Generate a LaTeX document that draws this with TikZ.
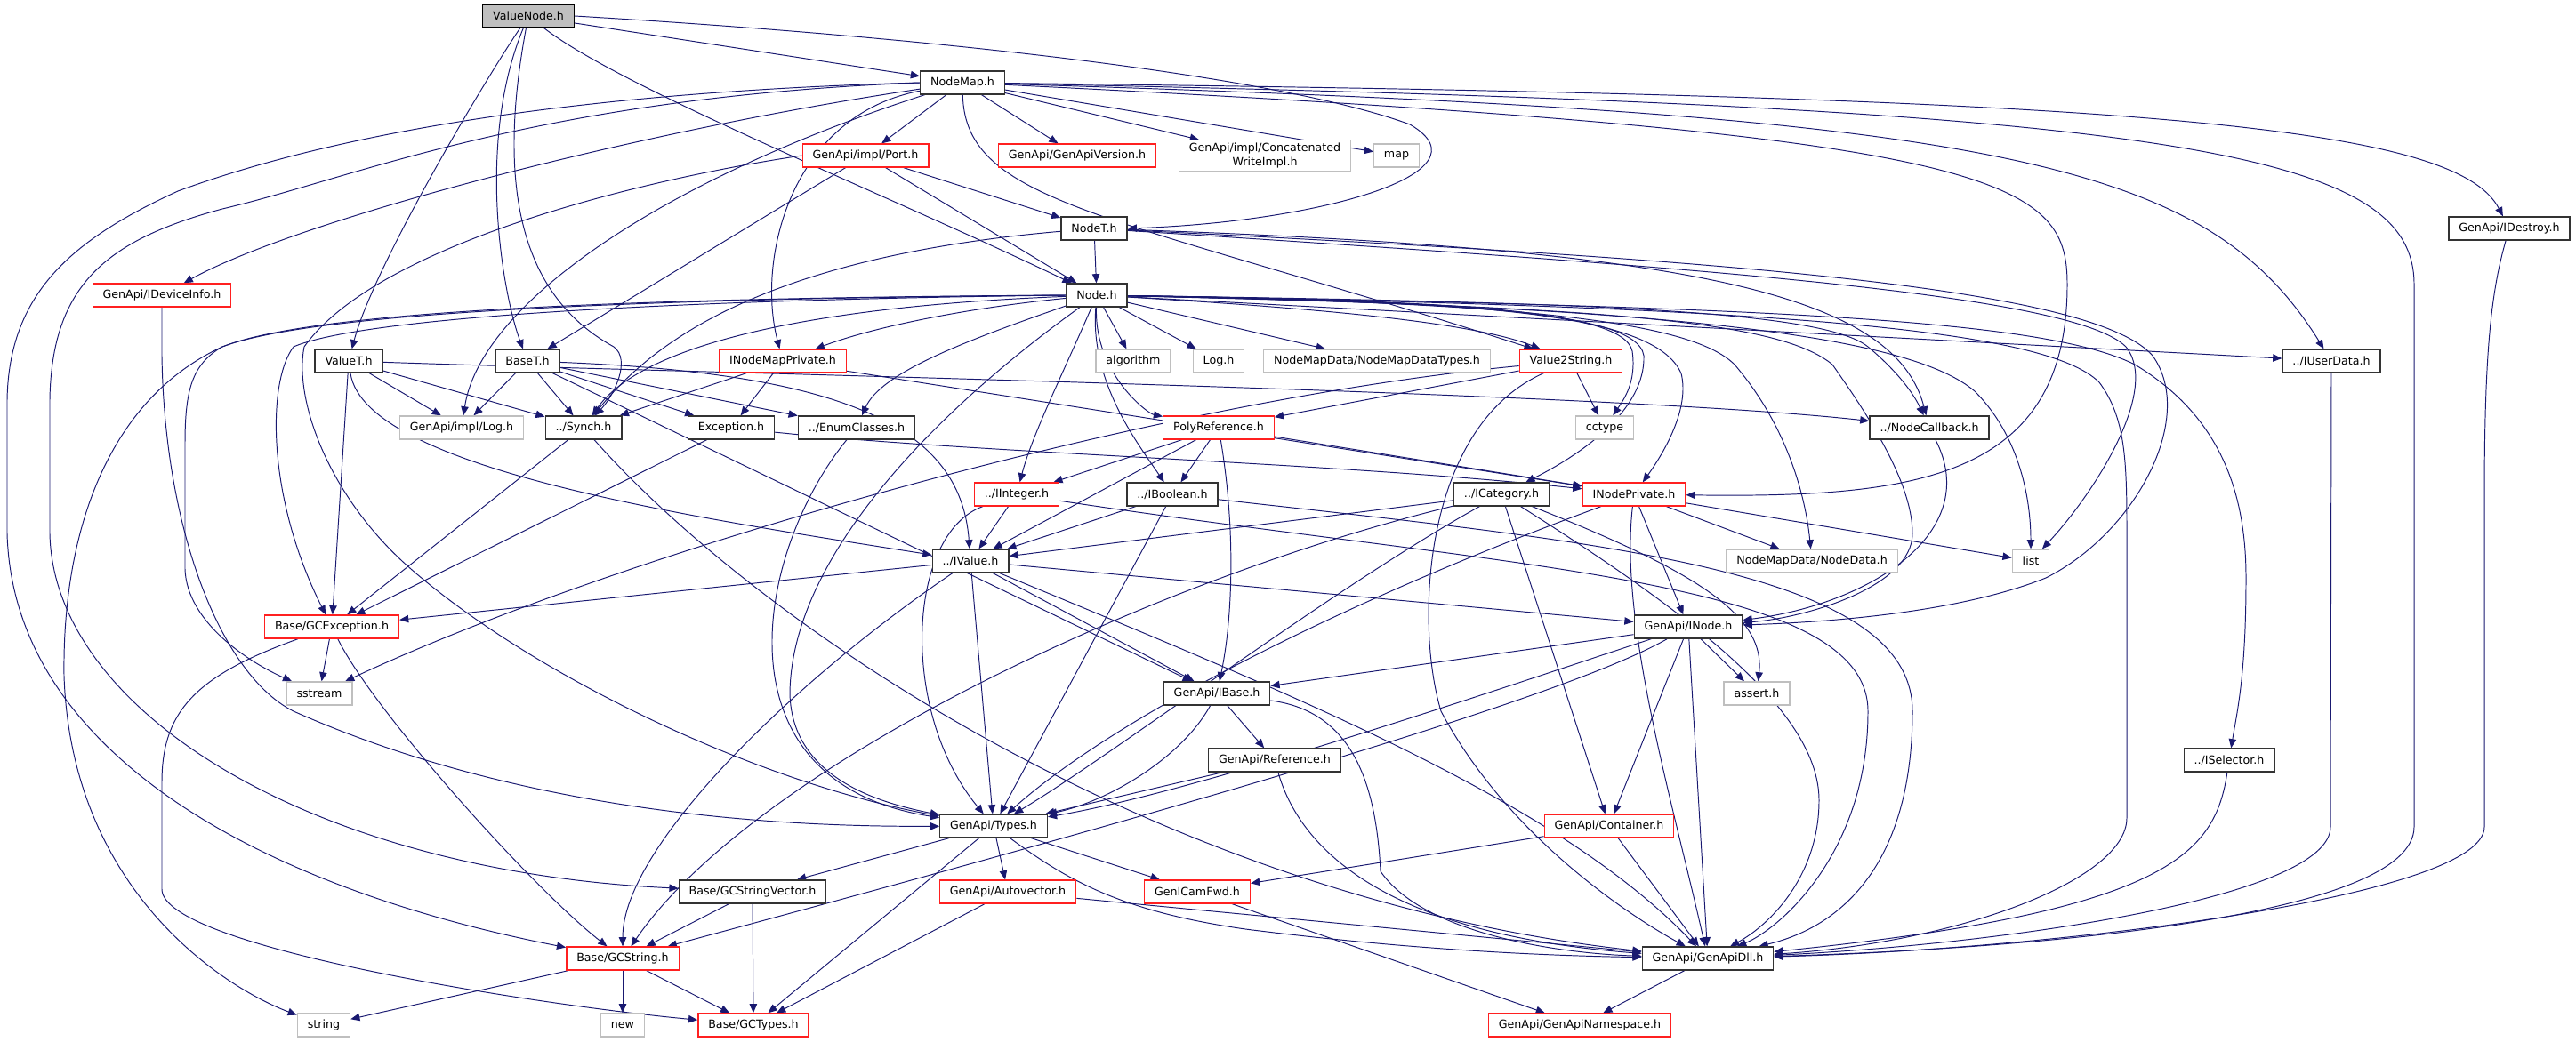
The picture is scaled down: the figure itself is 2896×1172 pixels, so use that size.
\documentclass[tikz,border=0pt]{standalone}
\usepackage{fontspec}
\setmainfont{DejaVu Sans}
\usetikzlibrary{arrows.meta,backgrounds}
\definecolor{edgeblue}{HTML}{191970}
\definecolor{leafgray}{HTML}{BFBFBF}
\definecolor{truncred}{HTML}{FF2020}
\begin{document}
\begin{tikzpicture}[x=0.02cm,y=-0.02cm,
  hdr/.style={draw=black!80,line width=0.75pt,fill=white,inner xsep=6.5pt,inner ysep=0pt,minimum height=0.52cm,font=\fontsize{7.2}{8.6}\selectfont},
  hdrred/.style={hdr,draw=truncred},
  hdrgray/.style={hdr,draw=leafgray},
  dep/.style={draw=edgeblue,line width=0.55pt,-{Triangle[length=5.8pt,width=4.8pt]}}]
\useasboundingbox (0,0) rectangle (2896,1172);

\node[hdr,fill=leafgray,draw=black] (valuenode) at (594,18) {ValueNode.h};
\node[hdr] (nodemap) at (1082,93) {NodeMap.h};
\node[hdrred] (port) at (973,175) {GenApi/impl/Port.h};
\node[hdrred] (version) at (1211,175) {GenApi/GenApiVersion.h};
\node[hdrgray,align=center,inner ysep=2pt] (concat) at (1422,175) {GenApi/impl/Concatenated\\WriteImpl.h};
\node[hdrgray] (map) at (1570,175) {map};
\node[hdr] (nodet) at (1230,257) {NodeT.h};
\node[hdr] (idestroy) at (2821,257) {GenApi/IDestroy.h};
\node[hdr] (node) at (1233,332) {Node.h};
\node[hdrred] (ideviceinfo) at (182,332) {GenApi/IDeviceInfo.h};
\node[hdr] (valuet) at (392,406) {ValueT.h};
\node[hdr] (baset) at (593,406) {BaseT.h};
\node[hdrred] (inodemapprivate) at (880,406) {INodeMapPrivate.h};
\node[hdrgray] (algorithm) at (1274,406) {algorithm};
\node[hdrgray] (logh) at (1370,406) {Log.h};
\node[hdrgray] (nodemapdatatypes) at (1548,406) {NodeMapData/NodeMapDataTypes.h};
\node[hdrred] (value2string) at (1766,406) {Value2String.h};
\node[hdr] (iuserdata) at (2621,406) {../IUserData.h};
\node[hdrgray] (impllog) at (519,481) {GenApi/impl/Log.h};
\node[hdr] (synch) at (656,481) {../Synch.h};
\node[hdr] (exception) at (822,481) {Exception.h};
\node[hdr] (enumclasses) at (963,481) {../EnumClasses.h};
\node[hdrred] (polyref) at (1370,481) {PolyReference.h};
\node[hdrgray] (cctype) at (1804,481) {cctype};
\node[hdr] (nodecallback) at (2169,481) {../NodeCallback.h};
\node[hdrred] (iinteger) at (1143,556) {../IInteger.h};
\node[hdr] (iboolean) at (1318,556) {../IBoolean.h};
\node[hdr] (icategory) at (1688,556) {../ICategory.h};
\node[hdrred] (inodeprivate) at (1837,556) {INodePrivate.h};
\node[hdr] (ivalue) at (1091,631) {../IValue.h};
\node[hdrgray] (nodedata) at (2037,631) {NodeMapData/NodeData.h};
\node[hdrgray] (list) at (2283,631) {list};
\node[hdrred] (gcexception) at (373,705) {Base/GCException.h};
\node[hdr] (inode) at (1898,705) {GenApi/INode.h};
\node[hdrgray] (sstream) at (359,780) {sstream};
\node[hdr] (ibase) at (1368,780) {GenApi/IBase.h};
\node[hdrgray] (assert) at (1975,780) {assert.h};
\node[hdr] (reference) at (1433,855) {GenApi/Reference.h};
\node[hdr] (iselector) at (2506,855) {../ISelector.h};
\node[hdr] (types) at (1117,929) {GenApi/Types.h};
\node[hdrred] (container) at (1809,929) {GenApi/Container.h};
\node[hdr] (gcstringvector) at (846,1003) {Base/GCStringVector.h};
\node[hdrred] (autovector) at (1133,1003) {GenApi/Autovector.h};
\node[hdrred] (genicamfwd) at (1346,1003) {GenICamFwd.h};
\node[hdrred] (gcstring) at (700,1078) {Base/GCString.h};
\node[hdr] (genapidll) at (1920,1078) {GenApi/GenApiDll.h};
\node[hdrgray] (string) at (364,1153) {string};
\node[hdrgray] (new) at (700,1153) {new};
\node[hdrred] (gctypes) at (847,1153) {Base/GCTypes.h};
\node[hdrred] (namespace) at (1776,1153) {GenApi/GenApiNamespace.h};

\begin{pgfonlayer}{background}
% ValueNode.h
\draw[dep] (valuenode) -- (nodemap);
\draw[dep] (valuenode) .. controls (700,100) and (1000,220) .. (node);
\draw[dep] (valuenode.east) .. controls (1100,45) and (1450,90) .. (1585,140) .. controls (1680,195) and (1480,250) .. (nodet.east);
\draw[dep] (valuenode) .. controls (545,90) and (420,300) .. (valuet);
\draw[dep] (valuenode) .. controls (535,160) and (565,330) .. (baset);
\draw[dep] (valuenode) .. controls (560,200) and (580,330) .. (690,390) .. controls (710,405) and (690,445) .. (synch);
% NodeMap.h
\draw[dep] (nodemap) -- (port);
\draw[dep] (nodemap) -- (version);
\draw[dep] (nodemap) -- (concat);
\draw[dep] (nodemap) -- (map);
\draw[dep] (nodemap) .. controls (1085,230) and (1250,240) .. (value2string);
\draw[dep] (nodemap) .. controls (890,130) and (850,290) .. (inodemapprivate);
\draw[dep] (nodemap) .. controls (2400,108) and (2760,140) .. (idestroy);
\draw[dep] (nodemap) .. controls (2450,120) and (2714,170) .. (2714,320) -- (2714,930) .. controls (2714,1030) and (2300,1066) .. (genapidll);
\draw[dep] (nodemap) .. controls (2250,128) and (2480,180) .. (iuserdata);
\draw[dep] (nodemap) .. controls (2250,150) and (2324,200) .. (2324,320) .. controls (2324,540) and (2150,560) .. (inodeprivate);
\draw[dep] (nodemap.west) .. controls (600,105) and (350,160) .. (200,215) .. controls (80,270) and (10,330) .. (8,450) -- (8,600) .. controls (15,850) and (300,1000) .. (gcstring);
\draw[dep] (nodemap.west) .. controls (600,110) and (400,200) .. (250,235) .. controls (120,270) and (58,320) .. (56,450) -- (56,600) .. controls (60,800) and (350,980) .. (gcstringvector);
\draw[dep] (nodemap) .. controls (700,150) and (330,250) .. (ideviceinfo);
\draw[dep] (nodemap) .. controls (750,200) and (540,340) .. (impllog);
% Port.h
\draw[dep] (port) -- (nodet);
\draw[dep] (port) -- (node);
\draw[dep] (port) -- (baset);
\draw[dep] (port.west) .. controls (700,205) and (420,280) .. (342,390) .. controls (330,450) and (370,560) .. (462,640) .. controls (600,760) and (850,880) .. (types);
% NodeT.h
\draw[dep] (nodet) -- (node);
\draw[dep] (nodet) .. controls (850,290) and (730,390) .. (synch);
\draw[dep] (nodet) .. controls (1900,280) and (2130,330) .. (nodecallback);
\draw[dep] (nodet) .. controls (1900,290) and (2350,320) .. (2420,400) .. controls (2470,470) and (2400,600) .. (2300,650) .. controls (2200,690) and (2050,700) .. (inode);
\draw[dep] (nodet) .. controls (1900,300) and (2330,330) .. (2390,390) .. controls (2430,440) and (2350,560) .. (list);
% Node.h
\draw[dep] (node) .. controls (1100,345) and (990,365) .. (inodemapprivate);
\draw[dep] (node) .. controls (900,345) and (720,390) .. (synch);
\draw[dep] (node.west) .. controls (700,338) and (400,360) .. (330,390) .. controls (300,430) and (300,560) .. (gcexception);
\draw[dep] (node.west) .. controls (700,335) and (350,350) .. (250,390) .. controls (120,450) and (70,600) .. (72,760) .. controls (80,1000) and (250,1110) .. (string);
\draw[dep] (node.west) .. controls (700,336) and (350,352) .. (250,390) .. controls (215,410) and (208,440) .. (208,500) -- (208,640) .. controls (210,700) and (280,745) .. (sstream);
\draw[dep] (node) .. controls (1080,385) and (990,420) .. (enumclasses);
\draw[dep] (node) .. controls (1110,420) and (890,600) .. (888,780) .. controls (890,880) and (1000,905) .. (types);
\draw[dep] (node) .. controls (1195,420) and (1160,490) .. (iinteger);
\draw[dep] (node) .. controls (1225,430) and (1280,500) .. (iboolean);
\draw[dep] (node) .. controls (1230,420) and (1290,465) .. (polyref);
\draw[dep] (node) -- (algorithm);
\draw[dep] (node) -- (logh);
\draw[dep] (node) -- (nodemapdatatypes);
\draw[dep] (node) .. controls (1450,345) and (1650,360) .. (value2string);
\draw[dep] (node) .. controls (1600,338) and (1825,345) .. (1835,395) .. controls (1840,430) and (1825,450) .. (cctype);
\draw[dep] (node) .. controls (1600,340) and (1840,345) .. (1848,400) .. controls (1850,460) and (1780,510) .. (icategory);
\draw[dep] (node) .. controls (1650,338) and (1860,350) .. (1890,420) .. controls (1900,460) and (1870,510) .. (inodeprivate);
\draw[dep] (node) .. controls (1700,340) and (1900,360) .. (1950,410) .. controls (2010,480) and (2030,560) .. (nodedata);
\draw[dep] (node) .. controls (1800,340) and (2050,350) .. (2100,390) .. controls (2130,415) and (2150,440) .. (nodecallback);
\draw[dep] (node) .. controls (1800,345) and (2000,360) .. (2060,410) .. controls (2095,460) and (2150,540) .. (2150,600) .. controls (2150,660) and (2030,695) .. (inode);
\draw[dep] (node) .. controls (1900,345) and (2150,380) .. (2220,440) .. controls (2270,490) and (2283,560) .. (list);
\draw[dep] (node) -- (iuserdata);
\draw[dep] (node) .. controls (2000,345) and (2300,360) .. (2400,410) .. controls (2500,470) and (2525,560) .. (2525,650) .. controls (2525,760) and (2515,800) .. (iselector);
\draw[dep] (node) .. controls (2000,345) and (2300,370) .. (2360,430) .. controls (2390,470) and (2391,520) .. (2391,600) -- (2391,920) .. controls (2391,990) and (2200,1060) .. (genapidll);
% GenApi/IDeviceInfo.h, GenApi/IDestroy.h
\draw[dep] (ideviceinfo) -- (182,400) .. controls (185,600) and (250,760) .. (330,800) .. controls (600,920) and (900,930) .. (types);
\draw[dep] (idestroy) .. controls (2800,330) and (2793,400) .. (2793,560) -- (2793,930) .. controls (2793,1010) and (2300,1068) .. (genapidll);
% ValueT.h
\draw[dep] (valuet) -- (impllog);
\draw[dep] (valuet) -- (synch);
\draw[dep] (valuet) -- (gcexception);
\draw[dep] (valuet) .. controls (410,530) and (800,585) .. (ivalue);
\draw[dep] (valuet) .. controls (800,420) and (1800,440) .. (nodecallback);
% BaseT.h
\draw[dep] (baset) -- (impllog);
\draw[dep] (baset) -- (synch);
\draw[dep] (baset) -- (exception);
\draw[dep] (baset) -- (enumclasses);
\draw[dep] (baset) .. controls (950,420) and (1080,480) .. (ivalue);
\draw[dep] (baset) -- (ibase);
% INodeMapPrivate.h
\draw[dep] (inodemapprivate) -- (synch);
\draw[dep] (inodemapprivate) -- (exception);
\draw[dep] (inodemapprivate) -- (inodeprivate);
% Value2String.h
\draw[dep] (value2string) -- (polyref);
\draw[dep] (value2string) .. controls (1300,450) and (700,620) .. (sstream);
\draw[dep] (value2string) -- (cctype);
\draw[dep] (value2string) .. controls (1600,480) and (1590,700) .. (1620,800) .. controls (1700,950) and (1850,1040) .. (genapidll);
% ../IUserData.h
\draw[dep] (iuserdata) -- (2620,930) .. controls (2620,1010) and (2250,1062) .. (genapidll);
% ../Synch.h, Exception.h, ../EnumClasses.h
\draw[dep] (synch) -- (gcexception);
\draw[dep] (synch) .. controls (850,700) and (1300,1010) .. (genapidll);
\draw[dep] (exception) -- (gcexception);
\draw[dep] (exception) .. controls (1100,510) and (1500,520) .. (inodeprivate);
\draw[dep] (enumclasses) .. controls (850,620) and (800,880) .. (types);
% PolyReference.h
\draw[dep] (polyref) -- (iinteger);
\draw[dep] (polyref) -- (iboolean);
\draw[dep] (polyref) -- (ivalue);
\draw[dep] (polyref) .. controls (1390,600) and (1385,700) .. (ibase);
\draw[dep] (polyref) -- (inodeprivate);
% ../NodeCallback.h
\draw[dep] (nodecallback) .. controls (2230,600) and (2100,680) .. (inode);
% ../IInteger.h, ../IBoolean.h
\draw[dep] (iinteger) -- (ivalue);
\draw[dep] (iinteger) .. controls (1020,600) and (1010,800) .. (types);
\draw[dep] (iinteger) .. controls (1700,640) and (2100,650) .. (2100,800) .. controls (2100,960) and (2000,1045) .. (genapidll);
\draw[dep] (iboolean) -- (ivalue);
\draw[dep] (iboolean) -- (types);
\draw[dep] (iboolean) .. controls (1800,610) and (2150,640) .. (2150,800) .. controls (2150,960) and (2080,1040) .. (genapidll);
% ../ICategory.h
\draw[dep] (icategory) -- (ivalue);
\draw[dep] (icategory) .. controls (1500,660) and (1250,850) .. (types);
\draw[dep] (icategory) .. controls (1300,650) and (850,860) .. (gcstring);
\draw[dep] (icategory) -- (container);
\draw[dep] (icategory) .. controls (1900,690) and (2045,800) .. (2045,900) .. controls (2045,985) and (1990,1040) .. (genapidll);
\draw[dep] (icategory) .. controls (1900,640) and (1985,690) .. (assert);
% INodePrivate.h
\draw[dep] (inodeprivate) .. controls (1500,680) and (1250,810) .. (types);
\draw[dep] (inodeprivate) .. controls (1820,700) and (1880,900) .. (genapidll);
\draw[dep] (inodeprivate) -- (inode);
\draw[dep] (inodeprivate) -- (nodedata);
\draw[dep] (inodeprivate) -- (list);
% ../IValue.h
\draw[dep] (ivalue) -- (gcexception);
\draw[dep] (ivalue) .. controls (900,760) and (700,950) .. (gcstring);
\draw[dep] (ivalue) -- (types);
\draw[dep] (ivalue) -- (ibase);
\draw[dep] (ivalue) -- (inode);
\draw[dep] (ivalue) .. controls (1450,780) and (1750,900) .. (genapidll);
% Base/GCException.h
\draw[dep] (gcexception) -- (sstream);
\draw[dep] (gcexception) .. controls (420,800) and (600,1000) .. (gcstring);
\draw[dep] (gcexception) .. controls (220,760) and (182,800) .. (182,880) -- (182,1000) .. controls (182,1065) and (600,1130) .. (gctypes);
% GenApi/INode.h
\draw[dep] (inode) -- (ibase);
\draw[dep] (inode) -- (assert);
\draw[dep] (inode) -- (container);
\draw[dep] (inode) -- (genapidll);
\draw[dep] (inode) .. controls (1700,770) and (1350,890) .. (types);
\draw[dep] (inode) .. controls (1750,790) and (1250,930) .. (gcstring);
% GenApi/IBase.h, GenApi/Reference.h, ../ISelector.h
\draw[dep] (ibase) -- (reference);
\draw[dep] (ibase) .. controls (1330,850) and (1250,900) .. (types);
\draw[dep] (ibase) .. controls (1520,800) and (1547,880) .. (1552,980) .. controls (1600,1050) and (1750,1072) .. (genapidll);
\draw[dep] (reference) -- (types);
\draw[dep] (reference) .. controls (1460,950) and (1550,1050) .. (genapidll);
\draw[dep] (iselector) .. controls (2490,960) and (2440,1025) .. (genapidll);
% GenApi/Types.h
\draw[dep] (types) -- (gcstringvector);
\draw[dep] (types) -- (autovector);
\draw[dep] (types) -- (genicamfwd);
\draw[dep] (types) -- (gctypes);
\draw[dep] (types) .. controls (1200,990) and (1260,1025) .. (1400,1045) .. controls (1600,1070) and (1750,1075) .. (genapidll);
% bottom rows
\draw[dep] (container) -- (genicamfwd);
\draw[dep] (container) -- (genapidll);
\draw[dep] (gcstringvector) -- (gcstring);
\draw[dep] (gcstringvector) -- (gctypes);
\draw[dep] (autovector) -- (gctypes);
\draw[dep] (autovector) -- (genapidll);
\draw[dep] (genicamfwd) -- (namespace);
\draw[dep] (gcstring) -- (string);
\draw[dep] (gcstring) -- (new);
\draw[dep] (gcstring) -- (gctypes);
\draw[dep] (genapidll) -- (namespace);
\end{pgfonlayer}
\end{tikzpicture}
\end{document}
